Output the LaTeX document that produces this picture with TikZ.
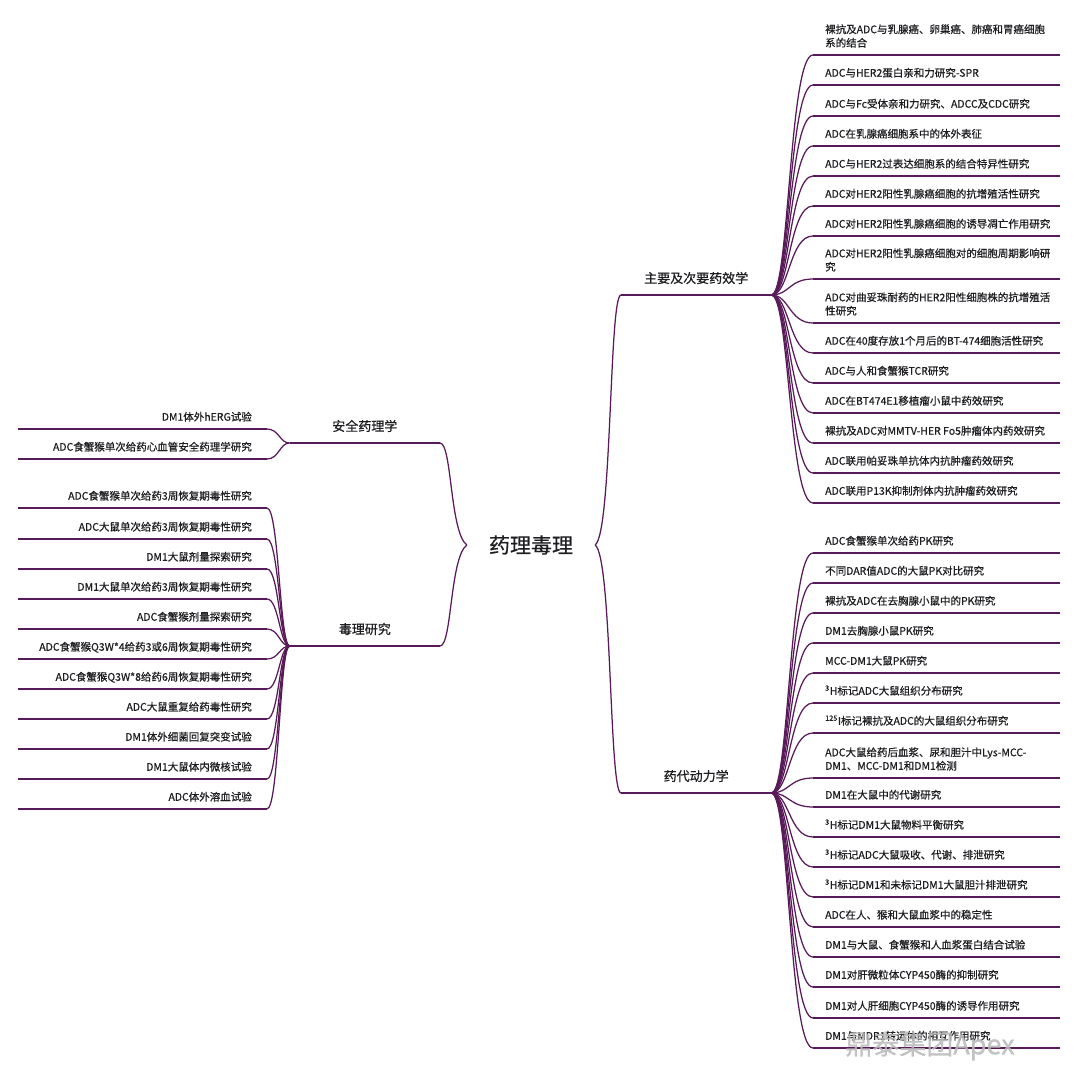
\documentclass[tikz,border=0pt]{standalone}
\usepackage{fontspec}
\newfontfamily\cjk{Noto Sans CJK SC}[FakeBold=0.6]
\definecolor{plum}{RGB}{88,26,88}
\definecolor{ink}{RGB}{30,30,34}
\begin{document}
\begin{tikzpicture}[x=1pt, y=-1pt,
    link/.style={draw=plum, line width=1.25pt},
    bar/.style={draw=plum, line width=1.25pt},
    topic/.style={font=\cjk\fontsize{21}{25}\selectfont, text=ink, inner xsep=22pt, inner ysep=4pt},
    branch/.style={font=\cjk\fontsize{13}{16}\selectfont, text=ink, minimum width=150pt, inner xsep=0pt,
                   inner ysep=7pt, execute at end node=\strut},
    leaf/.style={font=\cjk\fontsize{10.5}{13.5}\selectfont, text=ink, inner ysep=4pt, execute at end node=\strut},
    rleaf/.style={leaf, anchor=south west, align=left, inner xsep=12pt},
    lleaf/.style={leaf, anchor=south east, align=right, inner xsep=15pt},
    stamp/.style={font=\cjk\fontsize{27}{30}\selectfont, text=gray!55, opacity=0.85}]
  \fill[white] (0,0) rectangle (1080,1067);
  \useasboundingbox (0,0) rectangle (1080,1067);
  % the free ends of the leaf lines
  \coordinate (redge) at (1060,0);
  \coordinate (ledge) at (18,0);

  % centre and the four branches; each branch is underlined from the brace to its hub
  \node[topic] (root) at (531,545) {药理毒理};
  \node[branch, anchor=south west] (pharm) at (621,295) {主要及次要药效学};
  \node[branch, anchor=south west] (kin)   at (621,793) {药代动力学};
  \node[branch, anchor=south east] (safe)  at (440,443) {安全药理学};
  \node[branch, anchor=south east] (tox)   at (440,646) {毒理研究};
  \foreach \b in {pharm, kin, safe, tox}
    \draw[bar] (\b.south west) -- (\b.south east);
  \draw[link] (root.east) .. controls +(17,-13) and +(-12,0) .. (pharm.south west);
  \draw[link] (root.east) .. controls +(17,13)  and +(-12,0) .. (kin.south west);
  \draw[link] (root.west) .. controls +(-17,-13) and +(12,0) .. (safe.south east);
  \draw[link] (root.west) .. controls +(-17,13)  and +(12,0) .. (tox.south east);

  % primary and secondary pharmacodynamics
  \foreach \y/\txt [count=\i] in {
      55/{裸抗及ADC与乳腺癌、卵巢癌、肺癌和胃癌细胞\\系的结合},
      85/{ADC与HER2蛋白亲和力研究-SPR},
      116/{ADC与Fc受体亲和力研究、ADCC及CDC研究},
      146/{ADC在乳腺癌细胞系中的体外表征},
      176/{ADC与HER2过表达细胞系的结合特异性研究},
      206/{ADC对HER2阳性乳腺癌细胞的抗增殖活性研究},
      236/{ADC对HER2阳性乳腺癌细胞的诱导凋亡作用研究},
      279/{ADC对HER2阳性乳腺癌细胞对的细胞周期影响研\\究},
      323/{ADC对曲妥珠耐药的HER2阳性细胞株的抗增殖活\\性研究},
      353/{ADC在40度存放1个月后的BT-474细胞活性研究},
      383/{ADC与人和食蟹猴TCR研究},
      413/{ADC在BT474E1移植瘤小鼠中药效研究},
      443/{裸抗及ADC对MMTV-HER Fo5肿瘤体内药效研究},
      473/{ADC联用帕妥珠单抗体内抗肿瘤药效研究},
      503/{ADC联用P13K抑制剂体内抗肿瘤药效研究}} {
    \node[rleaf] (pharm\i) at (813,\y) {\txt};
    \draw[bar] (pharm\i.south west) -- (pharm\i.south west -| redge);
    \draw[link] (pharm.south east) .. controls +(18,0) and +(-24,0) .. (pharm\i.south west);}

  % pharmacokinetics
  \foreach \y/\txt [count=\i] in {
      553/{ADC食蟹猴单次给药PK研究},
      583/{不同DAR值ADC的大鼠PK对比研究},
      613/{裸抗及ADC在去胸腺小鼠中的PK研究},
      643/{DM1去胸腺小鼠PK研究},
      673/{MCC-DM1大鼠PK研究},
      703/{\textsuperscript{3}H标记ADC大鼠组织分布研究},
      733/{\textsuperscript{125}I标记裸抗及ADC的大鼠组织分布研究},
      778/{ADC大鼠给药后血浆、尿和胆汁中Lys-MCC-\\DM1、MCC-DM1和DM1检测},
      807/{DM1在大鼠中的代谢研究},
      837/{\textsuperscript{3}H标记DM1大鼠物料平衡研究},
      867/{\textsuperscript{3}H标记ADC大鼠吸收、代谢、排泄研究},
      897/{\textsuperscript{3}H标记DM1和未标记DM1大鼠胆汁排泄研究},
      927/{ADC在人、猴和大鼠血浆中的稳定性},
      957/{DM1与大鼠、食蟹猴和人血浆蛋白结合试验},
      987/{DM1对肝微粒体CYP450酶的抑制研究},
      1018/{DM1对人肝细胞CYP450酶的诱导作用研究},
      1048/{DM1与MDR1转运体的相互作用研究}} {
    \node[rleaf] (kin\i) at (813,\y) {\txt};
    \draw[bar] (kin\i.south west) -- (kin\i.south west -| redge);
    \draw[link] (kin.south east) .. controls +(18,0) and +(-24,0) .. (kin\i.south west);}

  % safety pharmacology
  \foreach \y/\txt [count=\i] in {
      429/{DM1体外hERG试验},
      459/{ADC食蟹猴单次给药心血管安全药理学研究}} {
    \node[lleaf] (safe\i) at (267,\y) {\txt};
    \draw[bar] (safe\i.south east) -- (safe\i.south east -| ledge);
    \draw[link] (safe.south west) .. controls +(-10,0) and +(12,0) .. (safe\i.south east);}

  % toxicology
  \foreach \y/\txt [count=\i] in {
      508/{ADC食蟹猴单次给药3周恢复期毒性研究},
      539/{ADC大鼠单次给药3周恢复期毒性研究},
      569/{DM1大鼠剂量探索研究},
      599/{DM1大鼠单次给药3周恢复期毒性研究},
      629/{ADC食蟹猴剂量探索研究},
      659/{ADC食蟹猴Q3W*4给药3或6周恢复期毒性研究},
      689/{ADC食蟹猴Q3W*8给药6周恢复期毒性研究},
      719/{ADC大鼠重复给药毒性研究},
      749/{DM1体外细菌回复突变试验},
      779/{DM1大鼠体内微核试验},
      809/{ADC体外溶血试验}} {
    \node[lleaf] (tox\i) at (267,\y) {\txt};
    \draw[bar] (tox\i.south east) -- (tox\i.south east -| ledge);
    \draw[link] (tox.south west) .. controls +(-10,0) and +(12,0) .. (tox\i.south east);}

  \node[stamp] (mark) at (930,1046) {鼎泰集团Apex};
\end{tikzpicture}
\end{document}
